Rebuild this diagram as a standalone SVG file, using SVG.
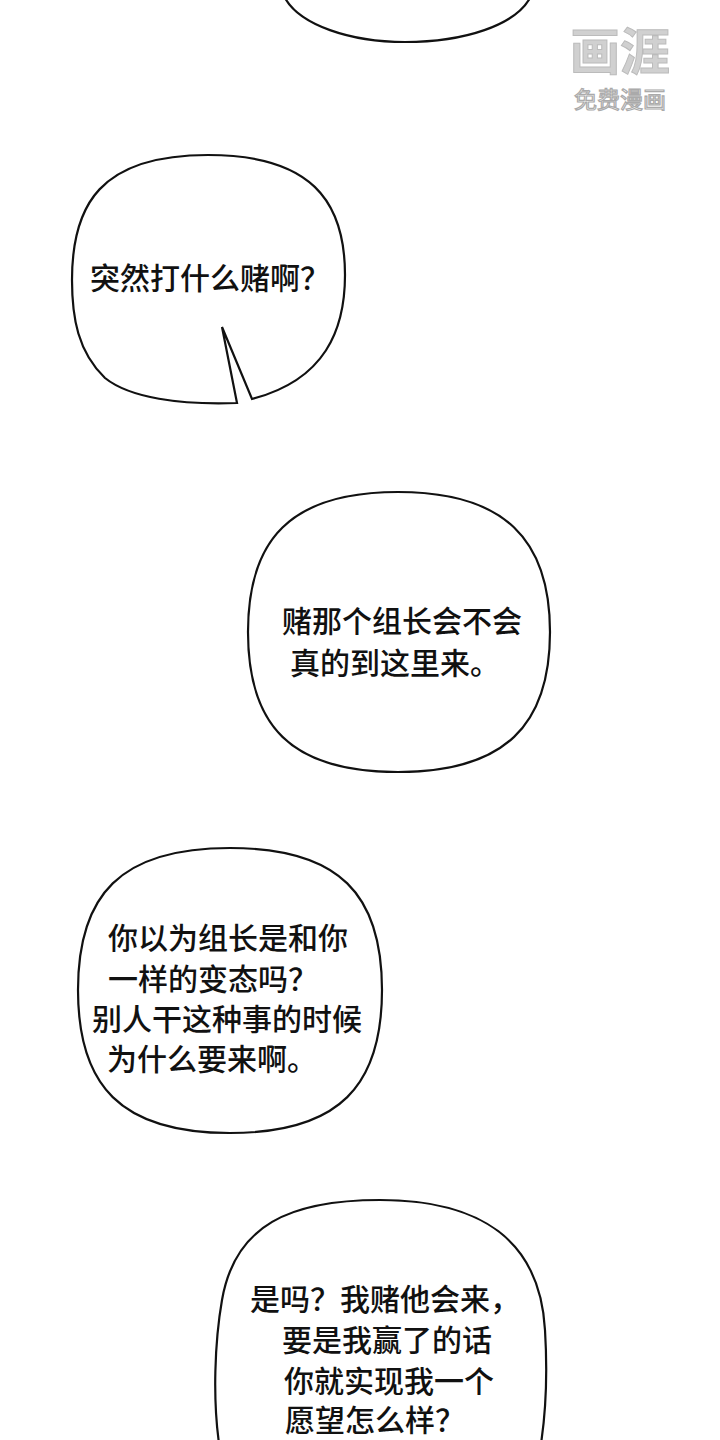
<svg xmlns="http://www.w3.org/2000/svg" width="720" height="1440" viewBox="0 0 720 1440">
<style>
.b{fill:#fff;stroke:#111;stroke-width:2.2;stroke-linejoin:miter}
.t{font-family:"Noto Sans CJK SC","Noto Sans",sans-serif;font-size:30px;font-weight:500;fill:#111;text-anchor:middle}
</style>
<rect width="720" height="1440" fill="#fff"/>
<g id="bubble-top"><path class="b" d="M285,-2 C300,25 350,42 405,42 C465,42 515,25 530,-2"/></g>
<g id="bubble-1">
<path class="b" d="M237,403 C180,405 130,398 105,378 C78,352 72,318 72,280 C72,205 100,155 208,155 C310,155 345,200 345,275 C345,330 325,380 252,399 L222,327 Z"/>
<text class="t" x="210" y="289">突然打什么赌啊？</text>
</g>
<g id="bubble-2">
<path class="b" d="M248,632 C248,540 290,492 398,492 C505,492 550,540 550,632 C550,725 505,772 398,772 C290,772 248,725 248,632 Z"/>
<text class="t" x="402" y="632">赌那个组长会不会</text>
<text class="t" x="395" y="674">真的到这里来。</text>
</g>
<g id="bubble-3">
<path class="b" d="M78,990 C78,895 120,848 230,848 C340,848 382,895 382,990 C382,1085 340,1133 230,1133 C120,1133 78,1085 78,990 Z"/>
<text class="t" x="228" y="949">你以为组长是和你</text>
<text class="t" x="213" y="990">一样的变态吗？</text>
<text class="t" x="227" y="1030">别人干这种事的时候</text>
<text class="t" x="212" y="1070">为什么要来啊。</text>
</g>
<g id="bubble-4">
<path class="b" d="M220,1450 C212,1400 215,1340 222,1300 C235,1225 290,1200 380,1200 C480,1200 540,1240 545,1330 C548,1380 545,1420 540,1450"/>
<text class="t" x="385" y="1310">是吗？我赌他会来，</text>
<text class="t" x="387" y="1351">要是我赢了的话</text>
<text class="t" x="389" y="1392">你就实现我一个</text>
<text class="t" x="375" y="1431">愿望怎么样？</text>
</g>
<g id="watermark" font-family="'Noto Sans CJK SC',sans-serif" text-anchor="middle">
<text x="620" y="70" font-size="50" font-weight="bold" fill="#d0d0d0" stroke="#bbb" stroke-width="1">画涯</text>
<text x="620" y="108" font-size="23" fill="#fff" stroke="#aaa" stroke-width="1.2">免费漫画</text>
</g>
</svg>
